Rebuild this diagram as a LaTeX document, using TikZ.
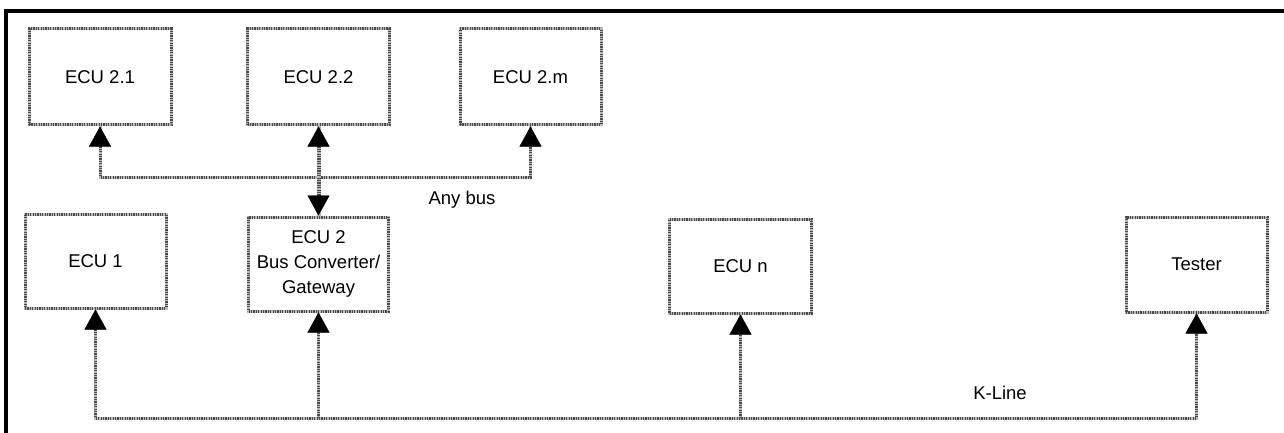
\documentclass[tikz,border=0pt]{standalone}
\usepackage{fontspec}
\setmainfont{Liberation Sans}
\usetikzlibrary{arrows.meta}
\tikzset{
  x=1pt, y=-1pt,
  wire/.style={draw=gray!60!black, line width=3pt, dash pattern=on 1.2pt off 1.2pt,
    preaction={draw=gray!55, line width=3pt, solid, -}},
  ecubox/.style={wire, rectangle, inner sep=0pt, align=center,
    font=\fontsize{18.5}{25}\selectfont},
  lbl/.style={inner sep=0pt, font=\fontsize{18.5}{25}\selectfont},
  tip/.tip={Triangle[width=22pt,length=20pt,color=black,line width=0.4pt]},
  frame/.style={draw=black, line width=4.5pt}
}
\begin{document}
\begin{tikzpicture}
\useasboundingbox (0,0) rectangle (1284,433);
\fill[white] (0,0) rectangle (1284,433);
% frame (top and left only)
\coordinate (ftl) at (6,11);
\coordinate (ftr) at (1284,11);
\coordinate (fbl) at (6,433);
\draw[frame] (fbl) -- (ftl) -- (ftr);

% boxes
\node[ecubox, minimum width=142pt, minimum height=96pt] (e21) at (100,77) {ECU 2.1};
\node[ecubox, minimum width=142pt, minimum height=96pt] (e22) at (318.5,77) {ECU 2.2};
\node[ecubox, minimum width=141pt, minimum height=96pt] (e2m) at (530.5,77) {ECU 2.m};
\node[ecubox, minimum width=141pt, minimum height=94pt] (e1) at (95.5,261) {ECU 1};
\node[ecubox, minimum width=140pt, minimum height=94pt] (e2) at (318.5,264) {ECU 2\\Bus Converter/\\Gateway};
\node[ecubox, minimum width=142pt, minimum height=94pt] (en) at (740.5,266) {ECU n};
\node[ecubox, minimum width=141pt, minimum height=95pt] (tester) at (1196.5,264.5) {Tester};

% any bus
\coordinate (abus) at (0,177);
\draw[wire, tip-tip] (e21.south) |- (abus -| e2m.south) -- (e2m.south);
\draw[wire, line width=4pt, preaction={draw=gray!55, line width=4pt, solid, -}, tip-tip] (e22.south) -- (e2.north);
\node[lbl] (anybus) at (462,200) {Any bus};

% K-line
\coordinate (kbus) at (0,418);
\draw[wire, tip-tip] (e1.south) |- (kbus -| tester.south) -- (tester.south);
\draw[wire, -tip] (kbus -| e2.south) -- (e2.south);
\draw[wire, -tip] (kbus -| en.south) -- (en.south);
\node[lbl] (kline) at (1000,393) {K-Line};
\end{tikzpicture}
\end{document}
